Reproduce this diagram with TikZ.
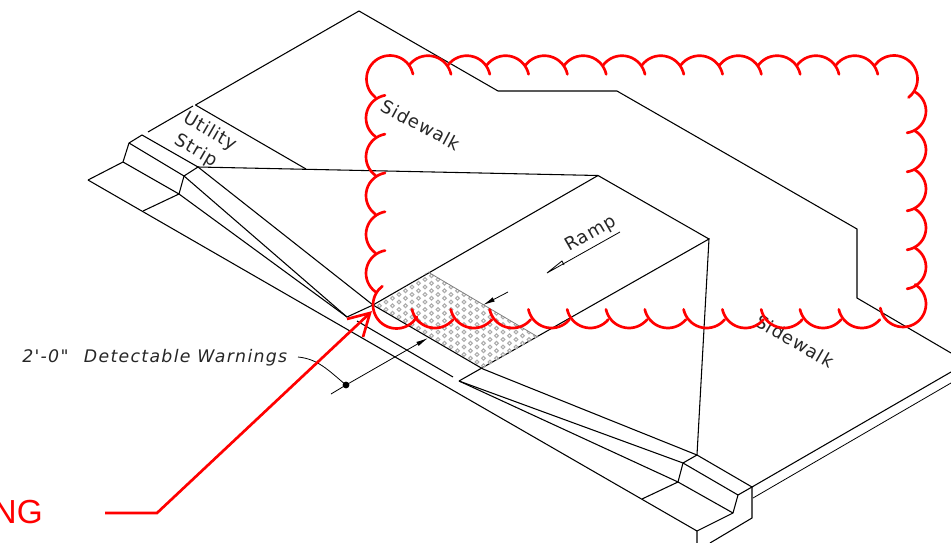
\documentclass[tikz,border=0pt]{standalone}
\usepackage{fontspec}
\usetikzlibrary{arrows.meta}
\setmainfont{Liberation Sans}
\newfontfamily\cadfont[LetterSpace=5]{DejaVu Sans}
\newfontfamily\cadwide[LetterSpace=7.5]{DejaVu Sans}
\newcommand\redscallop[5]{\draw[redarc] plot[domain=#4:#5,samples=18,smooth,variable=\t] ({#1+#3*cos(\t)},{#2-#3*sin(\t)});}
\tikzset{
  ink/.style={black,line width=0.8pt,line join=miter},
  thin ink/.style={black,line width=0.6pt},
  redarc/.style={red,line width=2pt,line cap=round},
  redline/.style={red,line width=2pt},
  cadtext/.style={font=\cadfont\fontsize{13.5}{16}\selectfont,inner sep=0pt,text=black!85},
  ring/.style={gray!65,line width=0.75pt},
  dimtip/.style={-{Latex[length=9pt,width=3.5pt]}}
}
\begin{document}
\begin{tikzpicture}[x=0.75pt,y=-0.75pt]
\useasboundingbox (0,0) rectangle (951,543);
% sidewalk and utility strip outline
\draw[ink] (195.5,105) -- (359,11) -- (498,91) -- (617,91) -- (857,229) -- (857,298) -- (951,353);
\draw[ink] (195.5,105) -- (306,169);
\draw[ink] (148,132) -- (193,106);
% curb, left
\draw[ink] (88,180) -- (123,162) -- (129,143) -- (142,135) -- (198,167) -- (184,176) -- (179,194) -- (143,211);
\draw[ink] (129,143) -- (184,176);
\draw[ink] (123,162) -- (179,194);
\draw[ink] (88,180) -- (697,531);
% flares, left
\draw[ink] (198,167) -- (373,305);
\draw[ink] (184,176) -- (347,317);
\draw[ink] (179,194) -- (347,317);
\draw[ink] (347,317) -- (373,305);
\draw[ink] (357,321) -- (453,377);
% ramp
\draw[ink] (198,167) -- (598,175.5) -- (709,239);
\draw[ink] (373,305) -- (598,175.5);
\draw[ink] (459,381) -- (709,239) -- (697,455);
% detectable warnings
\begin{scope}
\clip (428,272) -- (538,337) -- (483,369) -- (373,305) -- cycle;
\foreach \i in {0,...,26}{
  \foreach \j in {-13,...,13}{
    \draw[ring] ({373+6.5*\i},{272+3.75*\i+7.5*\j}) circle[radius=1.8];
  }
}
\end{scope}
\draw[thin ink,gray] (428,272) -- (538,337);
\draw[ink] (373,305) -- (483,369);
% flares, right
\draw[ink] (483,369) -- (697,455);
\draw[ink] (459,381) -- (683,463);
\draw[ink] (459,381) -- (678,482);
% curb, right
\draw[ink] (697,455) -- (752,487) -- (738,495) -- (733,513) -- (697,531) -- (697,543);
\draw[ink] (697,455) -- (683,463) -- (678,482) -- (642,499);
\draw[ink] (683,463) -- (738,495);
\draw[ink] (678,482) -- (733,513);
\draw[ink] (752,487) -- (752,518) -- (710,543);
\draw[ink] (752,487) -- (951,372);
\draw[thin ink] (753,498) -- (951,383);
% dimensions
\coordinate (dot) at (346,385);
\draw[thin ink,dimtip] (331,394) -- (dot) -- (428,338);
\draw[thin ink,dimtip] (508,292) -- (483,305);
\fill (dot) circle[radius=3.4];
\draw[thin ink] (298,357) .. controls (318,359) and (328,370) .. (dot);
% ramp arrow
\draw[thin ink] (620,232) -- (547,273) -- (562,261) -- (564,265);
% labels
\node[cadtext,rotate=-30] (utility) at (210,132) {Utility};
\node[cadtext,rotate=-30] (strip) at (196,151) {Strip};
\node[cadtext,rotate=-28] (walk1) at (421,125) {Sidewalk};
\node[cadtext,rotate=-30] (walk2) at (795,341) {Sidewalk};
\node[cadtext,rotate=30] (ramp) at (591,234) {Ramp};
\node[cadtext,anchor=west,font=\cadwide\fontsize{13}{16}\selectfont] (dw) at (22,358) {\itshape 2'-0"\hspace{0.5em} Detectable Warnings};
% revision cloud
\redscallop{390}{79}{23.5}{232}{12}
\foreach \k in {0,...,11}{
  \pgfmathsetmacro\cx{428+38.8*\k}
  \redscallop{\cx}{79.2}{23.5}{143}{12}
}
\redscallop{894}{79}{23.5}{143}{-52}
\foreach \k in {0,...,4}{
  \pgfmathsetmacro\cy{267-39*\k}
  \redscallop{904}{\cy}{22}{-82}{61}
}
\redscallop{903}{304}{23}{190}{418}
\foreach \k in {0,...,11}{
  \pgfmathsetmacro\cx{435+38.8*\k}
  \redscallop{\cx}{304.5}{23.5}{192}{320}
}
\foreach \k in {0,...,4}{
  \pgfmathsetmacro\cy{118+38.8*\k}
  \redscallop{389}{\cy}{23}{100}{234}
}
\redscallop{396.5}{305}{23.5}{127}{330}
% red pointer
\coordinate (redtip) at (370,313);
\draw[redline] (105,513) -- (157,513) -- (redtip);
\draw[redline] (347,319) -- (redtip) -- (363,337);
\node[anchor=base east,inner sep=0pt,text=red,font=\fontsize{25}{28}\selectfont] (ng) at (43,523) {NG};
\end{tikzpicture}
\end{document}
